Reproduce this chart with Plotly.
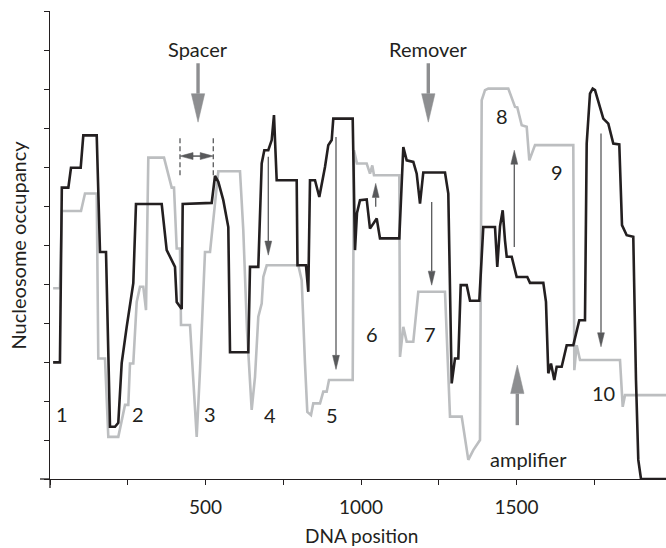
import plotly.graph_objects as go

# ---- data (DNA position, nucleosome occupancy in tick units) ----
black_x = [10, 32, 38, 59, 67.5, 98.7, 107.1, 150.2, 160.8, 180.1, 192.9, 209, 219.6, 230.5,
           246.6, 267.8, 276.5, 359.2, 375.2, 401.9, 407.4, 423.5, 426.7, 519.9, 530.5, 541.2,
           557.2, 573.3, 578.8, 637.6, 643.1, 669.8, 680.7, 689.1, 701.9, 712.9, 720.2, 728.9,
           793.2, 795.8, 823.1, 830.5, 836, 852.1, 865.9, 884.2, 894.8, 905.8, 910.9, 973.3,
           980.7, 987.1, 996.8, 1018.3, 1028.9, 1050.5, 1061.1, 1123.1, 1136, 1146.9, 1168.2,
           1179.1, 1189.7, 1200.3, 1270.1, 1280.7, 1291.6, 1302.2, 1312.9, 1320.6, 1339.9,
           1350.5, 1380.4, 1393.2, 1430.9, 1438.2, 1446.9, 1455.6, 1463, 1468.5, 1484.6,
           1500.6, 1534.7, 1543.4, 1586.2, 1594.8, 1602.2, 1610.9, 1621.5, 1629.2, 1645.3,
           1661.4, 1682.6, 1693.5, 1701.9, 1720.2, 1725.7, 1736.3, 1745, 1752.4, 1779.1,
           1795.2, 1811.2, 1830.5, 1839.2, 1854.3, 1875.5, 1884.2, 1891.6, 1900.3, 1981]
black_y = [2.99, 2.99, 7.47, 7.47, 7.98, 7.98, 8.81, 8.81, 5.82, 5.82, 1.34, 1.34, 1.44, 2.97,
           3.90, 5.02, 7.05, 7.05, 5.87, 5.44, 4.54, 4.36, 7.05, 7.08, 7.77, 7.62,
           7.15, 6.46, 3.25, 3.25, 5.44, 5.44, 8.09, 8.43, 8.43, 8.69, 9.33, 7.66,
           7.66, 5.48, 5.48, 4.80, 7.66, 7.66, 7.23, 8.00, 8.56, 8.69, 9.24, 9.24,
           5.87, 6.82, 7.15, 7.17, 6.42, 6.68, 6.17, 6.17, 8.51, 8.17, 8.13,
           7.83, 7.06, 7.86, 7.86, 7.32, 2.45, 3.09, 3.09, 4.97, 4.97,
           4.57, 4.57, 6.46, 6.46, 5.44, 6.48, 6.89, 6.12, 5.70, 5.70,
           5.18, 5.18, 5.03, 5.03, 4.54, 2.71, 2.96, 2.54, 2.88, 2.88,
           3.43, 3.43, 3.82, 4.07, 4.07, 8.60, 9.88, 10.01, 9.97, 9.24,
           9.11, 8.60, 8.58, 6.51, 6.25, 6.21, 2.54, 0.49, 0.0, 0.0]

gray_x = [10, 32, 38, 99.7, 112.5, 150.2, 155.3, 176.8, 187.5, 219.6, 241.2, 251.8, 257.2,
          267.8, 278.8, 289.4, 300, 308.7, 316.1, 366.6, 391.3, 398.7, 407.4, 418, 421.2,
          450.2, 471.7, 482.3, 498.4, 514.5, 541.2, 610.9, 621.5, 633.4, 648.5, 659.2,
          669.8, 680.7, 685.9, 696.8, 798.4, 809.3, 819.9, 827.3, 839.2, 846.6, 868.2,
          878.8, 889.7, 897.1, 973.3, 977.5, 987.1, 1018.3, 1028.9, 1036.3, 1041.8, 1123.1,
          1125.4, 1136, 1146.9, 1168.2, 1184.2, 1270.1, 1286.2, 1323.8, 1345, 1361.1,
          1382.6, 1388.1, 1398.7, 1409.3, 1473.6, 1495.2, 1502.6, 1516.7, 1532.8, 1541.2,
          1559.5, 1682.6, 1685.9, 1693.5, 1704.2, 1832.8, 1841.5, 1848.9, 1981]
gray_y = [4.89, 4.89, 6.87, 6.87, 7.32, 7.32, 3.09, 3.09, 1.08, 1.08, 1.90, 1.90, 2.96,
          2.96, 4.54, 4.93, 4.93, 4.33, 8.24, 8.24, 7.47, 7.47, 5.91, 5.91, 3.95,
          3.95, 1.08, 2.79, 5.82, 5.82, 7.89, 7.89, 6.38, 3.82, 1.77, 2.62,
          4.16, 4.50, 5.18, 5.48, 5.48, 5.10, 2.96, 1.72, 1.64, 1.94, 1.94,
          2.24, 2.24, 2.54, 2.54, 8.43, 8.09, 8.09, 7.83, 8.04, 7.79, 7.79,
          3.13, 3.90, 3.52, 3.52, 4.80, 4.80, 1.60, 1.60, 0.49, 0.74,
          1.00, 9.71, 9.97, 10.01, 10.01, 9.54, 9.53, 9.07, 9.03, 8.17,
          8.56, 8.56, 2.79, 3.43, 3.05, 3.05, 1.85, 2.15, 2.15]

x_tick_vals = [0, 250, 500, 750, 1000, 1250, 1500, 1750]
x_tick_text = ["", "", "500", "", "1000", "", "1500", ""]
y_tick_vals = list(range(0, 13))

region_labels = ["1", "2", "3", "4", "5", "6", "7", "8", "9", "10"]
region_label_x = [37.6, 283.9, 514.5, 707.4, 905.8, 1034.4, 1221.9, 1452.4, 1629.2, 1779.1]
region_label_y = [1.66, 1.66, 1.66, 1.64, 1.64, 3.71, 3.73, 9.30, 7.87, 2.20]

# ---- styling ----
INK = "#231f20"
GRAY = "#bcbec0"
BIG = "#8d8e90"
THIN = "#58595b"
FONT = "Lato"
X_MAX = 1980.7

fig = go.Figure()
fig.add_trace(go.Scatter(x=gray_x, y=gray_y, mode="lines",
                         line=dict(color=GRAY, width=2.6), hoverinfo="skip"))
fig.add_trace(go.Scatter(x=black_x, y=black_y, mode="lines",
                         line=dict(color=INK, width=2.6), hoverinfo="skip"))

shapes = []


def v_arrow(x, y_tail, y_tip, head_len, half_w, color, width):
    sgn = 1 if y_tip > y_tail else -1
    base = y_tip - sgn * head_len
    shapes.append(dict(type="line", xref="x", yref="y", x0=x, x1=x, y0=y_tail, y1=base,
                       line=dict(color=color, width=width)))
    shapes.append(dict(type="path", xref="x", yref="y",
                       path=f"M {x-half_w},{base} L {x+half_w},{base} L {x},{y_tip} Z",
                       fillcolor=color, line=dict(color=color, width=0.5)))


# big gray arrows
v_arrow(476, 10.66, 9.15, 0.73, 21.5, BIG, 3.4)      # Spacer
v_arrow(1216.4, 10.66, 9.15, 0.73, 21.5, BIG, 3.4)   # Remover
v_arrow(1502.6, 1.38, 2.92, 0.73, 21.5, BIG, 3.4)    # amplifier

# thin arrows
for ax_, y0_, y1_ in [(701.9, 8.26, 5.74), (919.6, 8.77, 2.81), (1047.3, 6.98, 7.58),
                      (1227.3, 7.10, 4.97), (1492.9, 5.95, 8.43), (1771.7, 8.86, 3.39)]:
    v_arrow(ax_, y0_, y1_, 0.36, 11, THIN, 1.3)

# spacer dashed bracket with double arrow
for xd in [418, 525]:
    shapes.append(dict(type="line", xref="x", yref="y", x0=xd, x1=xd, y0=7.79, y1=8.77,
                       line=dict(color=THIN, width=1.3, dash="5px,3px")))
shapes.append(dict(type="line", xref="x", yref="y", x0=455, x1=488, y0=8.28, y1=8.28,
                   line=dict(color=THIN, width=1.5)))
shapes.append(dict(type="path", xref="x", yref="y",
                   path="M 418,8.28 L 460,8.19 L 460,8.37 Z", fillcolor=THIN,
                   line=dict(color=THIN, width=0.5)))
shapes.append(dict(type="path", xref="x", yref="y",
                   path="M 525,8.28 L 483,8.19 L 483,8.37 Z", fillcolor=THIN,
                   line=dict(color=THIN, width=0.5)))

# axis overhangs (axes cross slightly beyond the origin)
shapes.append(dict(type="line", xref="paper", yref="paper", x0=-10 / 616, x1=0, y0=0, y1=0,
                   line=dict(color=INK, width=1.3)))
shapes.append(dict(type="line", xref="paper", yref="paper", x0=0, x1=0, y0=-9 / 468, y1=0,
                   line=dict(color=INK, width=1.3)))

annotations = []
tfont = dict(family=FONT, size=20, color=INK)
for t, xx, yy in zip(region_labels, region_label_x, region_label_y):
    annotations.append(dict(x=xx, y=yy, xref="x", yref="y", text=t, showarrow=False,
                            font=tfont, xanchor="center", yanchor="middle"))
annotations.append(dict(x=476, y=11.02, xref="x", yref="y", text="Spacer", showarrow=False,
                        font=tfont, xanchor="center", yanchor="middle"))
annotations.append(dict(x=1216.4, y=11.02, xref="x", yref="y", text="Remover", showarrow=False,
                        font=tfont, xanchor="center", yanchor="middle"))
annotations.append(dict(x=1540, y=0.51, xref="x", yref="y", text="amplifier", showarrow=False,
                        font=tfont, xanchor="center", yanchor="middle"))
annotations.append(dict(x=(17.5 - 50) / 616, y=0.5, xref="paper", yref="paper",
                        text="Nucleosome occupancy", textangle=-90, showarrow=False,
                        font=tfont, xanchor="center", yanchor="middle"))
annotations.append(dict(x=(361 - 50) / 616, y=(479 - 535) / 468, xref="paper", yref="paper",
                        text="DNA position", showarrow=False,
                        font=dict(family=FONT, size=19, color=INK),
                        xanchor="center", yanchor="middle"))

fig.update_layout(
    width=666, height=548,
    margin=dict(l=50, r=0, t=11, b=69),
    paper_bgcolor="white", plot_bgcolor="white",
    showlegend=False,
    font=dict(family=FONT, size=20, color=INK),
    shapes=shapes, annotations=annotations,
    xaxis=dict(range=[0, X_MAX], showgrid=False, zeroline=False, showline=True,
               linecolor=INK, linewidth=1.3, ticks="outside", ticklen=5, tickwidth=1.3,
               tickcolor=INK, tickmode="array", tickvals=x_tick_vals, ticktext=x_tick_text,
               tickfont=dict(family=FONT, size=19, color=INK), ticklabelstandoff=6,
               fixedrange=True),
    yaxis=dict(range=[0, 12], showgrid=False, zeroline=False, showline=True,
               linecolor=INK, linewidth=1.3, ticks="outside", ticklen=5, tickwidth=1.3,
               tickcolor=INK, tickmode="array", tickvals=y_tick_vals, showticklabels=False,
               fixedrange=True),
)

fig.write_html("out.html", config={"displayModeBar": False},
               post_script="document.body.style.margin='0px';document.body.style.padding='0px';")
